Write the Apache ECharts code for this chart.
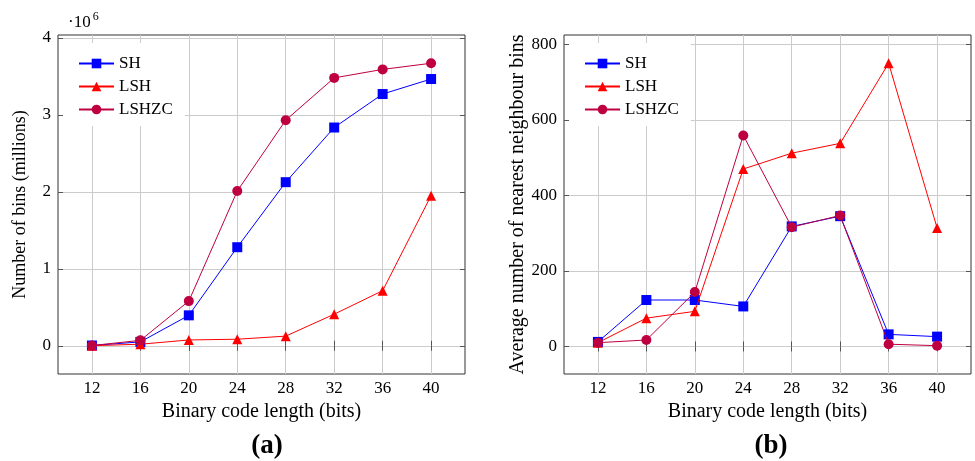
<!DOCTYPE html>
<html>
<head>
<meta charset="utf-8">
<script src="https://cdn.jsdelivr.net/npm/echarts@6/dist/echarts.min.js"></script>
<style>
  html, body { margin: 0; padding: 0; background: #fff; }
  #chart { width: 975px; height: 461px; }
</style>
</head>
<body>
<div id="chart"></div>
<script>
// Binary code lengths shared by both panels
const bits = [12, 16, 20, 24, 28, 32, 36, 40];
const bitTicks = [12, 16, 20, 24, 28, 32, 36, 40];

// (a) number of bins, in millions
const binsSH    = [0.003, 0.05, 0.395, 1.28, 2.125, 2.835, 3.27, 3.465];
const binsLSH   = [0.001, 0.02, 0.075, 0.085, 0.125, 0.41, 0.715, 1.95];
const binsLSHZC = [0.003, 0.07, 0.58, 2.01, 2.93, 3.48, 3.59, 3.67];
const binsTicks = [0, 1, 2, 3, 4];

// (b) average number of nearest neighbour bins
const neighSH    = [12, 123, 123, 106, 318, 345, 32, 26];
const neighLSH   = [10, 75, 93, 470, 512, 538, 750, 314];
const neighLSHZC = [10, 17, 144, 559, 316, 347, 6, 2];
const neighTicks = [0, 200, 400, 600, 800];

const names = ['SH', 'LSH', 'LSHZC'];
const colors = ['#0000ff', '#ff0000', '#bf0040'];
const symbols = ['rect', 'triangle', 'circle'];
const symbolSizes = [10, 10, 10];

const FONT = '"Liberation Serif", "DejaVu Serif", serif';
const gridColor = '#cccccc';
const frameColor = '#333333';

function pairs(xs, ys) { return xs.map((x, i) => [x, ys[i]]); }

function xAxes(gridIndex) {
  const base = {
    type: 'value', gridIndex, min: 9.2, max: 42.8,
    axisLine: { show: false },
    axisTick: { show: true, inside: true, length: 5, customValues: bitTicks,
                lineStyle: { color: '#555', width: 1 } },
  };
  return [
    Object.assign({}, base, {
      position: 'bottom',
      name: 'Binary code length (bits)', nameLocation: 'middle', nameGap: 28,
      nameTextStyle: { fontFamily: FONT, fontSize: 20, color: '#000' },
      axisLabel: { customValues: bitTicks, margin: 6, fontFamily: FONT, fontSize: 17, color: '#000' },
      splitLine: { show: true, lineStyle: { color: gridColor, width: 1 } },
    }),
    Object.assign({}, base, {
      position: 'top',
      axisLabel: { show: false },
      splitLine: { show: false },
    }),
  ];
}

function yAxes(gridIndex, min, max, ticks, name, nameGap, nameSize) {
  const base = {
    type: 'value', gridIndex, min, max,
    axisLine: { show: false },
    axisTick: { show: true, inside: true, length: 5, customValues: ticks,
                lineStyle: { color: '#555', width: 1 } },
  };
  return [
    Object.assign({}, base, {
      position: 'left',
      name, nameLocation: 'middle', nameGap,
      nameTextStyle: { fontFamily: FONT, fontSize: nameSize, color: '#000' },
      axisLabel: { customValues: ticks, margin: 7, fontFamily: FONT, fontSize: 17, color: '#000' },
      splitLine: { show: true, lineStyle: { color: gridColor, width: 1 } },
    }),
    Object.assign({}, base, {
      position: 'right',
      axisLabel: { show: false },
      splitLine: { show: false },
    }),
  ];
}

function seriesFor(gridSlot, dataSets) {
  return dataSets.map((ys, k) => ({
    name: names[k],
    type: 'line',
    xAxisIndex: gridSlot * 2,
    yAxisIndex: gridSlot * 2,
    data: pairs(bits, ys),
    symbol: symbols[k],
    symbolSize: symbolSizes[k],
    showAllSymbol: true,
    color: colors[k],
    lineStyle: { color: colors[k], width: 1 },
    itemStyle: { color: colors[k] },
    z: 3 + k,
    animation: false,
  }));
}

function legendAt(left, top) {
  return {
    left, top,
    orient: 'vertical',
    data: names,
    backgroundColor: '#ffffff',
    padding: [12, 12, 8, 15],
    itemWidth: 35, itemHeight: 12, itemGap: 6,
    textStyle: { fontFamily: FONT, fontSize: 17, color: '#000' },
    selectedMode: false,
    z: 10,
  };
}

const chart = echarts.init(document.getElementById('chart'), null, { renderer: 'canvas' });

const option = {
  backgroundColor: '#ffffff',
  animation: false,
  grid: [
    { left: 58, top: 35, width: 407, height: 339, show: true, borderColor: frameColor, borderWidth: 1, backgroundColor: 'transparent', containLabel: false },
    { left: 564, top: 35, width: 407, height: 339, show: true, borderColor: frameColor, borderWidth: 1, backgroundColor: 'transparent', containLabel: false },
  ],
  xAxis: [].concat(xAxes(0), xAxes(1)),
  yAxis: [].concat(
    yAxes(0, -0.367, 4.037, binsTicks, 'Number of bins (millions)', 29, 18),
    yAxes(1, -73, 825, neighTicks, 'Average number of nearest neighbour bins', 36, 20)
  ),
  legend: [
    Object.assign(legendAt(63, 43), { seriesIndex: [0, 1, 2] }),
    Object.assign(legendAt(569, 43), { seriesIndex: [3, 4, 5] }),
  ],
  title: [
    { text: '{a|·10}{b|6}', left: 63, top: 6,
      textStyle: { rich: {
        a: { fontFamily: FONT, fontSize: 17, fontWeight: 'normal', color: '#000', verticalAlign: 'bottom', lineHeight: 20 },
        b: { fontFamily: FONT, fontSize: 12, fontWeight: 'normal', color: '#000', verticalAlign: 'top', lineHeight: 20, padding: [0, 0, 8, 2] },
      } } },
    { text: '(a)', left: 262, top: 441, textAlign: 'center', textVerticalAlign: 'middle',
      textStyle: { fontFamily: FONT, fontSize: 27, fontWeight: 'bold', color: '#000' } },
    { text: '(b)', left: 766, top: 441, textAlign: 'center', textVerticalAlign: 'middle',
      textStyle: { fontFamily: FONT, fontSize: 27, fontWeight: 'bold', color: '#000' } },
  ],
  series: [].concat(
    seriesFor(0, [binsSH, binsLSH, binsLSHZC]),
    seriesFor(1, [neighSH, neighLSH, neighLSHZC])
  ),
};

chart.setOption(option);
</script>
</body>
</html>
